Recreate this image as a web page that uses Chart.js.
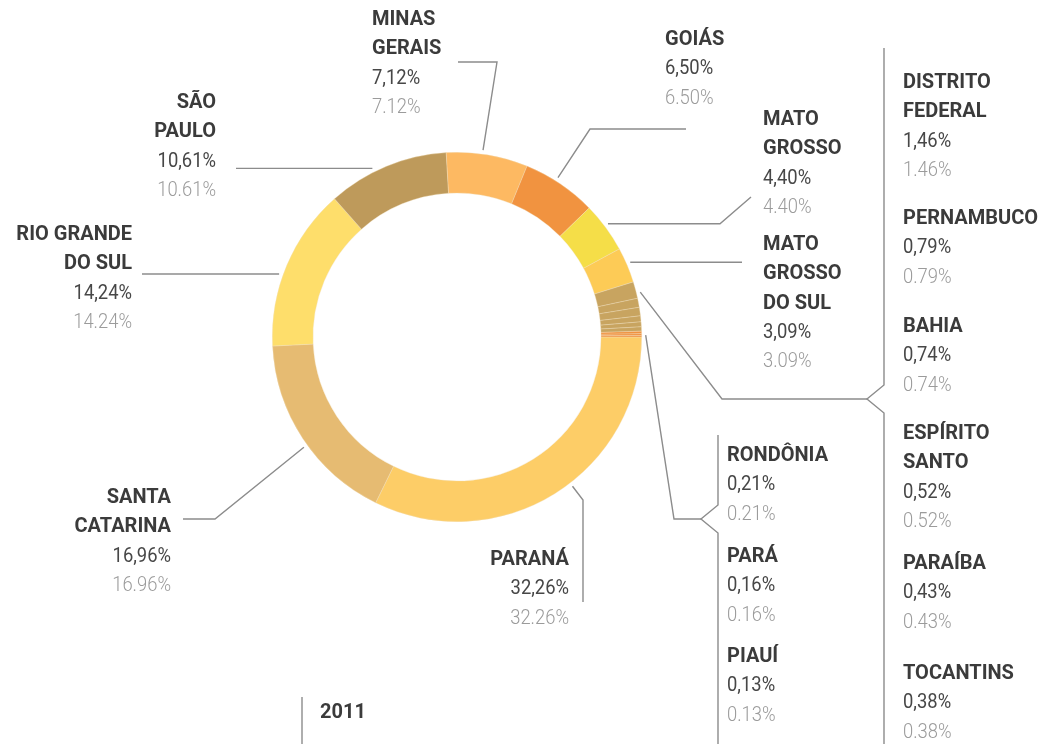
<!DOCTYPE html>
<html>
<head>
<meta charset="utf-8">
<script src="https://cdn.jsdelivr.net/npm/chart.js@4.4.1/dist/chart.umd.min.js"></script>
<style>
  html, body { margin: 0; padding: 0; background: #ffffff; }
  #wrap { position: relative; width: 1044px; height: 744px; }
</style>
</head>
<body>
<div id="wrap"><canvas id="c" width="1044" height="744"></canvas></div>
<script>
// ---- data ----
const categories = ['Paraná', 'Santa Catarina', 'Rio Grande do Sul', 'São Paulo', 'Minas Gerais', 'Goiás',
  'Mato Grosso', 'Mato Grosso do Sul', 'Distrito Federal', 'Pernambuco', 'Bahia', 'Espírito Santo',
  'Paraíba', 'Tocantins', 'Rondônia', 'Pará', 'Piauí'];
const labelLines = [['PARANÁ'], ['SANTA', 'CATARINA'], ['RIO GRANDE', 'DO SUL'], ['SÃO', 'PAULO'], ['MINAS', 'GERAIS'],
  ['GOIÁS'], ['MATO', 'GROSSO'], ['MATO', 'GROSSO', 'DO SUL'], ['DISTRITO', 'FEDERAL'], ['PERNAMBUCO'], ['BAHIA'],
  ['ESPÍRITO', 'SANTO'], ['PARAÍBA'], ['TOCANTINS'], ['RONDÔNIA'], ['PARÁ'], ['PIAUÍ']];
const shares = [32.26, 16.96, 14.24, 10.61, 7.12, 6.50, 4.40, 3.09, 1.46, 0.79, 0.74, 0.52, 0.43, 0.38, 0.21, 0.16, 0.13];
const sliceColors = ['#FDCD67', '#E6BB72', '#FEDE6B', '#BE9A5B', '#FDB962', '#F19340', '#F5DE48', '#FDCB56',
  '#C8A460', '#C8A460', '#C8A460', '#C8A460', '#C8A460', '#C8A460', '#F0913F', '#F0913F', '#F0913F'];
const yearLabel = '2011';

// ---- layout (text placement) ----
const LH = 29.3;
const labelPos = [
  {x: 569, y: 565, align: 'right'},
  {x: 171, y: 503, align: 'right'},
  {x: 132, y: 240, align: 'right'},
  {x: 216, y: 108, align: 'right'},
  {x: 372, y: 25, align: 'left'},
  {x: 665, y: 45, align: 'left'},
  {x: 763, y: 125, align: 'left'},
  {x: 763, y: 250, align: 'left'},
  {x: 903, y: 88, align: 'left'},
  {x: 903, y: 224, align: 'left'},
  {x: 903, y: 332, align: 'left'},
  {x: 903, y: 439, align: 'left'},
  {x: 903, y: 569, align: 'left'},
  {x: 903, y: 679, align: 'left'},
  {x: 727, y: 461, align: 'left'},
  {x: 727, y: 562, align: 'left'},
  {x: 727, y: 662, align: 'left'}
];
// leader lines: slice range [from,to], fraction along the range, then layout points (null y = keep previous y)
const leaders = [
  {from: 0, to: 0, frac: 0.45, pts: [[583, 500], [583, 602]]},
  {from: 1, to: 1, frac: 0.46, pts: [[215, 519], [183, 519]]},
  {from: 2, to: 2, frac: 0.435, pts: [[142, null]]},
  {from: 3, to: 3, frac: 0.39, pts: [[236, null]]},
  {from: 4, to: 4, frac: 0.44, pts: [[497, 62], [458, 62]]},
  {from: 5, to: 5, frac: 0.43, pts: [[590, 129], [686, 129]]},
  {from: 6, to: 6, frac: 0.47, pts: [[720, null], [751, 197]]},
  {from: 7, to: 7, frac: 0.46, pts: [[742, null]]},
  {from: 8, to: 13, frac: 0.23, pts: [[722, 399], [867, 399]]},
  {from: 14, to: 16, frac: 0.67, pts: [[674, 519], [701, 519]]}
];
const braces = [
  [[884, 48], [884, 385], [867, 399], [884, 413], [884, 744]],
  [[718, 435], [718, 505], [701, 519], [718, 533], [718, 744]],
  [[302, 697], [302, 744]]
];

const FONT = 'Roboto, "Open Sans", sans-serif';

const labelPlugin = {
  id: 'stateLabels',
  afterDraw(chart) {
    const ctx = chart.ctx;
    const arcs = chart.getDatasetMeta(0).data;
    ctx.save();
    // leader lines
    ctx.strokeStyle = '#8c8c8c';
    ctx.lineWidth = 1.4;
    ctx.lineJoin = 'miter';
    leaders.forEach(l => {
      const a0 = arcs[l.from], a1 = arcs[l.to];
      const ang = a0.startAngle + l.frac * (a1.endAngle - a0.startAngle);
      const r = a0.outerRadius + 4;
      let px = a0.x + r * Math.cos(ang), py = a0.y + r * Math.sin(ang);
      ctx.beginPath();
      ctx.moveTo(px, py);
      l.pts.forEach(p => {
        px = p[0]; py = (p[1] === null) ? py : p[1];
        ctx.lineTo(px, py);
      });
      ctx.stroke();
    });
    braces.forEach(b => {
      ctx.beginPath();
      b.forEach((p, i) => i ? ctx.lineTo(p[0], p[1]) : ctx.moveTo(p[0], p[1]));
      ctx.stroke();
    });
    // texts
    ctx.textBaseline = 'alphabetic';
    shares.forEach((v, i) => {
      const pos = labelPos[i];
      ctx.textAlign = pos.align;
      let y = pos.y;
      ctx.font = '700 20px ' + FONT;
      ctx.fillStyle = '#3b3b3b';
      labelLines[i].forEach(t => { ctx.fillText(t, pos.x, y); y += LH; });
      const draw = (txt, color, weight) => {
        ctx.save();
        ctx.translate(pos.x, y);
        ctx.scale(0.92, 1);
        ctx.font = weight + ' 20px ' + FONT;
        ctx.fillStyle = color;
        ctx.fillText(txt, 0, 0);
        ctx.restore();
        y += LH;
      };
      draw(v.toFixed(2).replace('.', ',') + '%', '#474747', '400');
      draw(v.toFixed(2) + '%', '#9b9b9b', '300');
    });
    ctx.textAlign = 'left';
    ctx.font = '700 20px ' + FONT;
    ctx.fillStyle = '#3b3b3b';
    ctx.fillText(yearLabel, 320, 718);
    ctx.restore();
  }
};

new Chart(document.getElementById('c'), {
  type: 'doughnut',
  data: {
    labels: categories,
    datasets: [{
      data: shares,
      backgroundColor: sliceColors,
      borderColor: 'rgba(240,225,190,0.6)',
      borderWidth: 0.6,
      hoverOffset: 0
    }]
  },
  options: {
    responsive: false,
    animation: false,
    devicePixelRatio: 1,
    rotation: 90,
    cutout: '78%',
    layout: { padding: { left: 272, top: 152, right: 402, bottom: 222 } },
    plugins: { legend: { display: false }, tooltip: { enabled: false } }
  },
  plugins: [labelPlugin]
});
</script>
</body>
</html>
